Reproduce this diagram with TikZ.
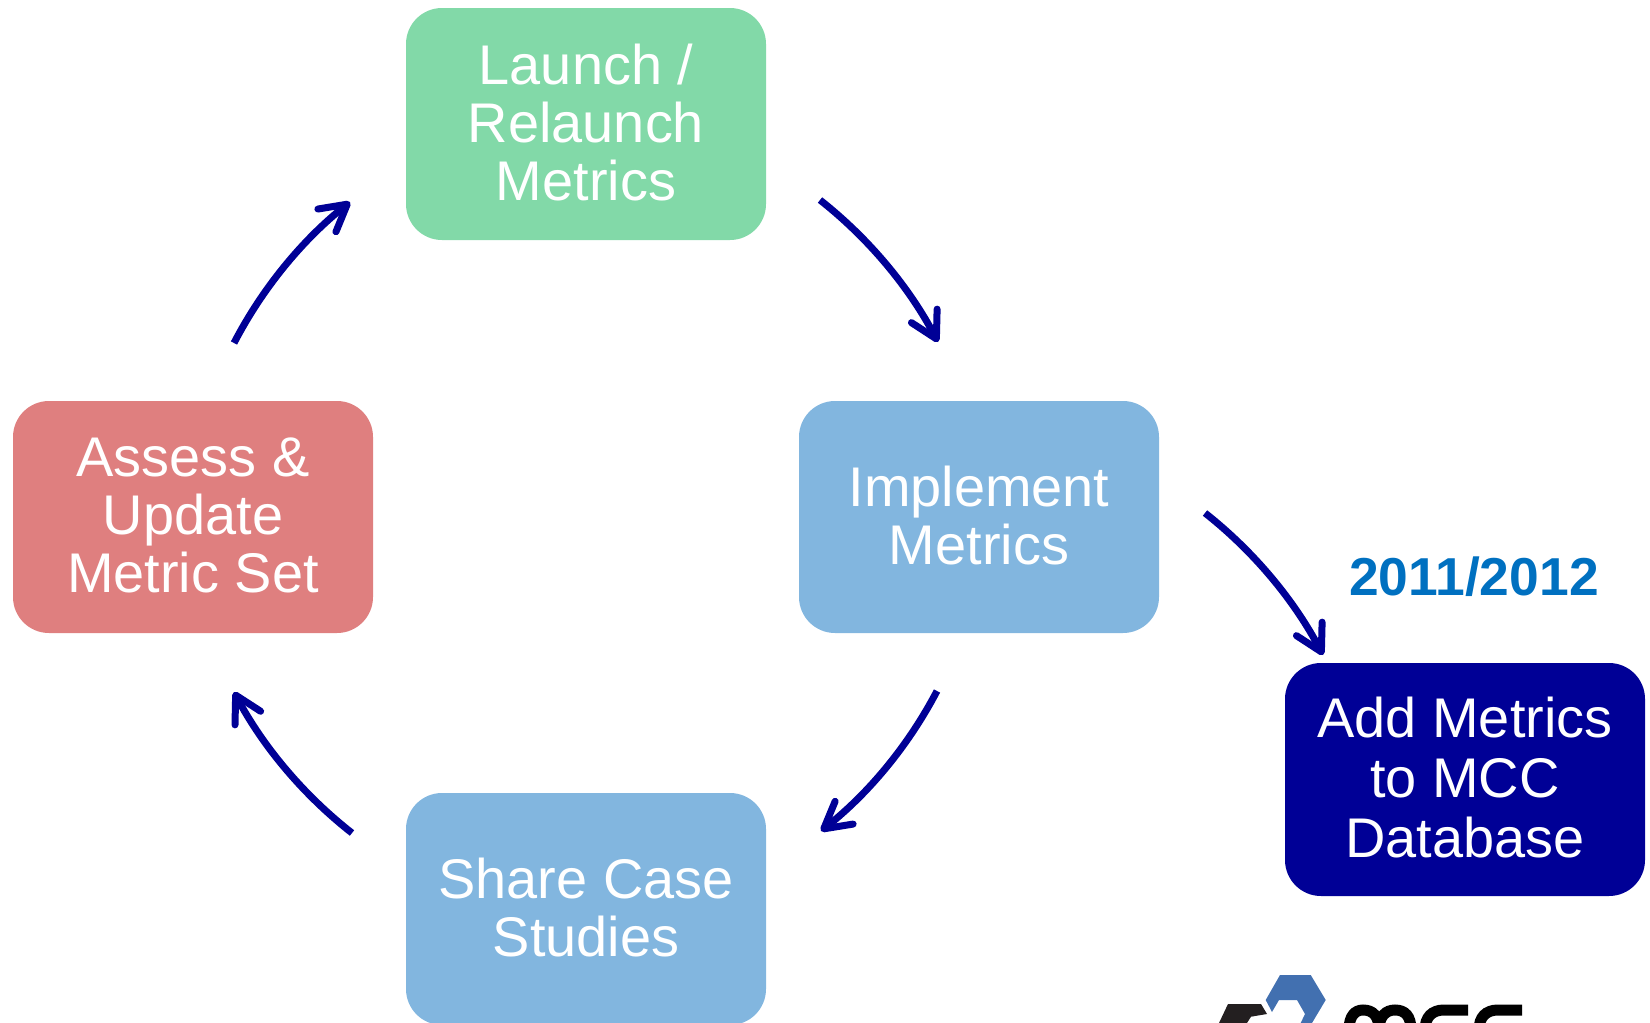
\documentclass[tikz,border=0pt]{standalone}
\usepackage{fontspec}
\setmainfont{Liberation Sans}
\usetikzlibrary{arrows.meta}
\definecolor{cgreen}{HTML}{82D9A8}
\definecolor{cblue}{HTML}{82B6DF}
\definecolor{cred}{HTML}{DF7F7F}
\definecolor{cnavy}{HTML}{000096}
\definecolor{cdate}{HTML}{0070C0}
\definecolor{clogo}{HTML}{4270B0}
\definecolor{cblk}{HTML}{231F20}
\tikzset{
  stage/.style={rounded corners=36pt,minimum width=360pt,minimum height=232pt,inner sep=0pt,
    text=white,align=center,text depth=4pt,font=\fontsize{55.9}{58}\selectfont},
  flow/.style={draw=cnavy,line width=7pt,
    -{Straight Barb[length=26pt,width=29pt,round,line width=7pt]}},
  flowcurve/.style={flow,bend left=12,looseness=0.86}
}
\begin{document}
\begin{tikzpicture}[x=1pt,y=-1pt]
\useasboundingbox (0,0) rectangle (1650,1023);
\clip (0,0) rectangle (1650,1023);
\node[stage,fill=cgreen] (launch) at (586,124) {Launch /\\Relaunch\\Metrics};
\node[stage,fill=cblue] (impl) at (979,517) {Implement\\Metrics};
\node[stage,fill=cred] (assess) at (193,517) {Assess \&\\Update\\Metric Set};
\node[stage,fill=cblue] (share) at (586,909) {Share Case\\Studies};
\node[stage,fill=cnavy,minimum height=233pt,font=\fontsize{55.9}{60}\selectfont] (add) at (1465,779.5) {Add Metrics\\to MCC\\Database};
\node[text=cdate,inner sep=0pt,font=\fontsize{53.4}{58}\selectfont\bfseries] (date) at (1474,577) {2011/2012};
\coordinate (a1s) at (820,200);
\coordinate (a1e) at (938,342);
\coordinate (a2s) at (1205,513);
\coordinate (a2e) at (1323,655);
\coordinate (a3s) at (937,691);
\coordinate (a3e) at (821,831);
\coordinate (a4s) at (352,833);
\coordinate (a4e) at (234,692);
\coordinate (a5s) at (234,343);
\coordinate (a5e) at (350,202);
\draw[flowcurve] (a1s) to (a1e);
\draw[flowcurve] (a2s) to (a2e);
\draw[flowcurve] (a3s) to (a3e);
\draw[flowcurve] (a4s) to (a4e);
\draw[flowcurve] (a5s) to (a5e);
% logo, cut off by the lower edge
\fill[clogo] (1280,975) -- (1310.7,975) -- (1325.7,1000) -- (1312,1023) -- (1300.7,1023) -- (1305,1014) -- (1297,1000) -- (1279,1000) -- (1272,1012) -- (1265.7,1000) -- cycle;
\fill[cblk] (1219,1023) -- (1228,1004) -- (1261,1004) -- (1267,1014) -- (1251,1016.7) -- (1247,1023) -- cycle;
\draw[black,line width=11pt] (1349,1030) .. controls (1349,1016) and (1355,1010) .. (1363,1010) .. controls (1373,1010) and (1379,1016) .. (1379,1030);
\draw[black,line width=11pt] (1379,1030) .. controls (1379,1016) and (1386,1010) .. (1395,1010) .. controls (1405,1010) and (1411,1016) .. (1411,1030);
\draw[black,line width=11pt] (1468,1010) -- (1444,1010) .. controls (1432,1010) and (1425,1017) .. (1425,1030);
\draw[black,line width=11pt] (1522,1010) -- (1498,1010) .. controls (1486,1010) and (1479,1017) .. (1479,1030);
\end{tikzpicture}
\end{document}
